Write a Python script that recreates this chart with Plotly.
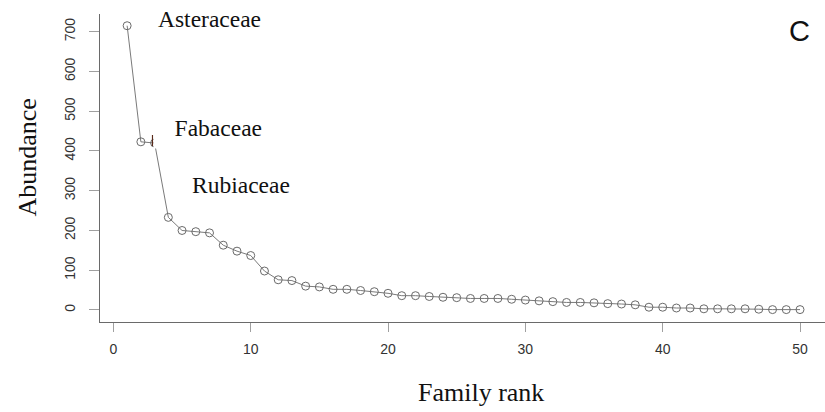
import plotly.graph_objects as go

# ---- data ----
ranks = list(range(1, 51))
abundance = [715, 423, 420, 233, 200, 197, 194, 163, 148, 137,
             98, 76, 74, 60, 58, 52, 52, 49, 46, 42,
             36, 36, 34, 32, 31, 29, 29, 29, 27, 25,
             23, 21, 19, 19, 18, 16, 15, 13, 7, 7,
             5, 5, 3, 3, 3, 3, 2, 1, 1, 1]
x_ticks = [0, 10, 20, 30, 40, 50]
y_ticks = [0, 100, 200, 300, 400, 500, 600, 700]
family_labels = ["Asteraceae", "Fabaceae", "Rubiaceae"]
panel_label = "C"
x_title = "Family rank"
y_title = "Abundance"

W, H = 825, 412
ML, MR, MT, MB = 100, 0, 14, 90
PW, PH = W - ML - MR, H - MT - MB


def px(x):
    return (x - ML) / PW


def py(y):
    return (H - MB - y) / PH


fig = go.Figure()
fig.add_trace(go.Scatter(
    x=ranks, y=abundance, mode="lines+markers",
    line=dict(color="#7a7a7a", width=1),
    marker=dict(symbol="circle-open", size=8, color="#6a6a6a",
                line=dict(width=1, color="#6a6a6a")),
    showlegend=False, hoverinfo="x+y",
))

serif = "Liberation Serif, Times New Roman, serif"
sans = "Liberation Sans, Arial, sans-serif"

annotations = [
    dict(text=family_labels[0], xref="paper", yref="paper",
         x=px(209.5), y=py(18.5), xanchor="center", yanchor="middle",
         showarrow=False, font=dict(family=serif, size=23.5, color="#111")),
    dict(text=family_labels[1], xref="paper", yref="paper",
         x=px(153), y=py(107), xanchor="left", yanchor="top",
         width=108, height=40, align="right", valign="middle",
         bgcolor="white", borderpad=0,
         showarrow=False, font=dict(family=serif, size=23.5, color="#111")),
    dict(text=family_labels[2], xref="paper", yref="paper",
         x=px(241), y=py(185), xanchor="center", yanchor="middle",
         showarrow=False, font=dict(family=serif, size=23.5, color="#111")),
    dict(text=panel_label, xref="paper", yref="paper",
         x=px(799), y=py(30.5), xanchor="center", yanchor="middle",
         showarrow=False, font=dict(family=sans, size=29, color="#111")),
    dict(text=x_title, xref="paper", yref="paper",
         x=px(481), y=py(392), xanchor="center", yanchor="middle",
         showarrow=False, font=dict(family=serif, size=26, color="#111")),
    dict(text=y_title, xref="paper", yref="paper",
         x=px(27), y=py(157.5), xanchor="center", yanchor="middle",
         textangle=-90,
         showarrow=False, font=dict(family=serif, size=26, color="#111")),
]

fig.update_layout(
    width=W, height=H,
    margin=dict(l=ML, r=MR, t=MT, b=MB, pad=0),
    paper_bgcolor="white", plot_bgcolor="white",
    annotations=annotations,
    shapes=[dict(type="line", xref="paper", yref="paper",
                 x0=px(152.5), x1=px(152.5), y0=py(135), y1=py(146),
                 line=dict(color="#5a2a1a", width=1.2), layer="above")],
    xaxis=dict(range=[-0.976, 51.82], tickvals=x_ticks, ticks="outside",
               ticklen=9, tickcolor="#a0a0a0", tickwidth=1,
               showline=True, linecolor="#6a6a6a", linewidth=1.2,
               showgrid=False, zeroline=False,
               tickfont=dict(family=sans, size=14, color="#333"),
               ticklabelstandoff=5),
    yaxis=dict(range=[-30.2, 744.5], tickvals=y_ticks, ticks="outside",
               ticklen=10, tickcolor="#a0a0a0", tickwidth=1,
               showline=True, linecolor="#6a6a6a", linewidth=1.2,
               showgrid=False, zeroline=False, tickangle=-90,
               tickfont=dict(family=sans, size=14, color="#333"),
               ticklabelstandoff=8),
)

fig.write_html("out.html")
